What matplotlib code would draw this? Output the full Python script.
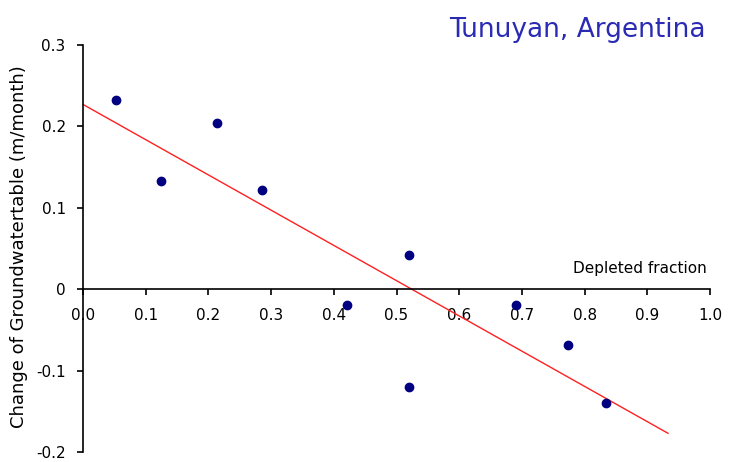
import matplotlib
matplotlib.use("Agg")
import matplotlib.pyplot as plt
import numpy as np

plt.rcParams['font.family'] = ['DejaVu Sans']

depleted = [0.053, 0.124, 0.214, 0.285, 0.421, 0.520, 0.520, 0.690, 0.774, 0.834]
change = [0.233, 0.133, 0.204, 0.122, -0.019, 0.042, -0.120, -0.019, -0.068, -0.140]
trend_x = [0.0, 0.933]
trend_y = [0.227, -0.177]
xticks = [0.0, 0.1, 0.2, 0.3, 0.4, 0.5, 0.6, 0.7, 0.8, 0.9, 1.0]
yticks = [-0.2, -0.1, 0.0, 0.1, 0.2, 0.3]
ytick_labels = ['-0.2', '-0.1', '0', '0.1', '0.2', '0.3']

fig = plt.figure(figsize=(7.33, 4.62), dpi=100)
ax = fig.add_axes([83/733, 1-452/462, (710-83)/733, (452-45)/462])

ax.plot(trend_x, trend_y, color='#ff2020', lw=1.0)
ax.plot(depleted, change, 'o', color='#000080', ms=6, mec='#000080')

ax.set_xlim(0, 1.0)
ax.set_ylim(-0.2, 0.3)
ax.spines['top'].set_visible(False)
ax.spines['right'].set_visible(False)
ax.spines['bottom'].set_position(('data', 0))
ax.spines['left'].set_linewidth(1.2)
ax.spines['bottom'].set_linewidth(1.2)
ax.set_xticks(xticks)
ax.set_xticklabels(['%.1f' % v for v in xticks])
ax.set_yticks(yticks)
ax.set_yticklabels(ytick_labels)
ax.tick_params(axis='both', direction='out', length=4.5, width=1.2, labelsize=11, colors='black')
ax.tick_params(axis='x', pad=9)
ax.tick_params(axis='y', pad=8)

ax.set_ylabel('Change of Groundwatertable (m/month)', fontsize=13)
ax.yaxis.set_label_coords((28-83)/627, (452-247)/407)
ax.text(0.995, 0.026, 'Depleted fraction', fontsize=11, ha='right', va='center')
fig.text(706/733, 1-30/462, 'Tunuyan, Argentina', fontsize=19, color='#2a2ab4', ha='right', va='center')

fig.savefig('out.png', dpi=100)
